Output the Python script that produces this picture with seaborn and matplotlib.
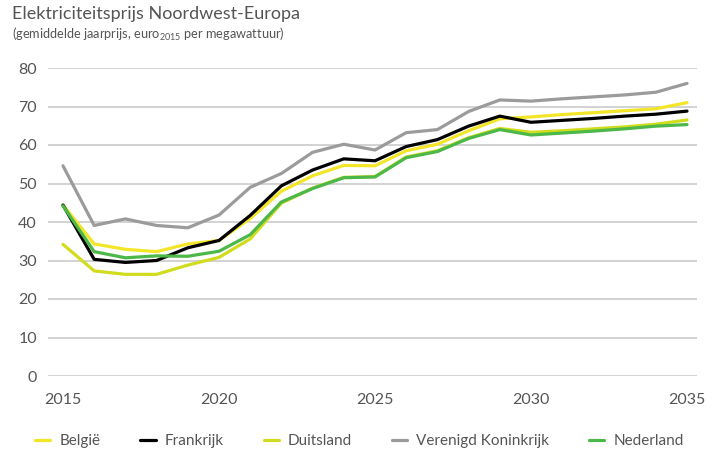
import pandas as pd
import seaborn as sns
import matplotlib.pyplot as plt

# jaarlijkse gemiddelde elektriciteitsprijs (euro2015 / MWh)
years = list(range(2015, 2036))
belgie = [44.4, 34.3, 32.9, 32.3, 34.3, 35.2, 40.9, 48.0, 52.0, 54.7, 54.6,
          58.5, 60.2, 63.7, 66.8, 67.3, 67.9, 68.4, 68.9, 69.4, 71.0]
frankrijk = [44.4, 30.3, 29.5, 30.0, 33.3, 35.2, 41.7, 49.4, 53.5, 56.4, 55.9,
             59.6, 61.4, 64.9, 67.5, 65.9, 66.4, 66.9, 67.5, 68.0, 68.8]
duitsland = [34.2, 27.3, 26.4, 26.4, 28.8, 30.8, 35.6, 44.9, 48.8, 51.6, 51.8,
             56.9, 58.5, 61.9, 64.3, 63.3, 63.7, 64.2, 64.7, 65.4, 66.5]
vk = [54.6, 39.1, 40.8, 39.1, 38.5, 41.8, 49.0, 52.6, 58.1, 60.2, 58.7,
      63.2, 64.0, 68.7, 71.7, 71.4, 72.0, 72.5, 73.0, 73.7, 76.0]
nederland = [44.2, 32.3, 30.7, 31.2, 31.1, 32.4, 36.7, 45.2, 48.7, 51.5, 51.7,
             56.7, 58.3, 61.7, 64.0, 62.6, 63.1, 63.6, 64.2, 64.9, 65.3]

countries = ['België', 'Frankrijk', 'Duitsland', 'Verenigd Koninkrijk', 'Nederland']
colors = ['#f3e629', '#000000', '#d2dc1e', '#9b9b9b', '#4cb848']
yticks = [0, 10, 20, 30, 40, 50, 60, 70, 80]
xticks = [2015, 2020, 2025, 2030, 2035]

df = pd.DataFrame({'jaar': years, countries[0]: belgie, countries[1]: frankrijk,
                   countries[2]: duitsland, countries[3]: vk, countries[4]: nederland})
df = df.melt(id_vars='jaar', var_name='land', value_name='prijs')

sns.set_style('white')
plt.rcParams['font.family'] = ['Lato', 'DejaVu Sans']

fig = plt.figure(figsize=(7.12, 4.54), dpi=100)
ax = fig.add_axes([48 / 712, 78 / 454, 649 / 712, 308 / 454])

sns.lineplot(data=df, x='jaar', y='prijs', hue='land', hue_order=countries,
             palette=colors, linewidth=2.3, ax=ax, legend=False)
for line in ax.lines:
    line.set_clip_on(False)

ax.set_xlim(2014.52, 2035.32)
ax.set_ylim(0, 80)
ax.set_yticks(yticks)
ax.set_xticks(xticks)
ax.yaxis.grid(True, color='#cfcfcf', linewidth=1.3)
ax.set_axisbelow(True)
for s in ax.spines.values():
    s.set_visible(False)
ax.tick_params(axis='both', length=0, labelsize=11.5, colors='#555555')
ax.tick_params(axis='y', pad=8)
ax.tick_params(axis='x', pad=12)
ax.set_xlabel('')
ax.set_ylabel('')

fig.text(12 / 712, 1 - 14 / 454, 'Elektriciteitsprijs Noordwest-Europa',
         fontsize=13, color='#555555', va='center', ha='left')
fig.text(12 / 712, 1 - 34 / 454,
         r'(gemiddelde jaarprijs, euro$_{\mathregular{2015}}$ per megawattuur)',
         fontsize=9.2, color='#555555', va='center', ha='left')

handles = [plt.Line2D([], [], color=c, linewidth=2.3) for c in colors]
fig.legend(handles, countries, loc='center', ncol=5, frameon=False,
           bbox_to_anchor=(0.505, 1 - 441 / 454), fontsize=11, handlelength=1.0,
           handletextpad=0.6, columnspacing=2.6, labelcolor='#555555')

fig.savefig('out.png', dpi=100)
